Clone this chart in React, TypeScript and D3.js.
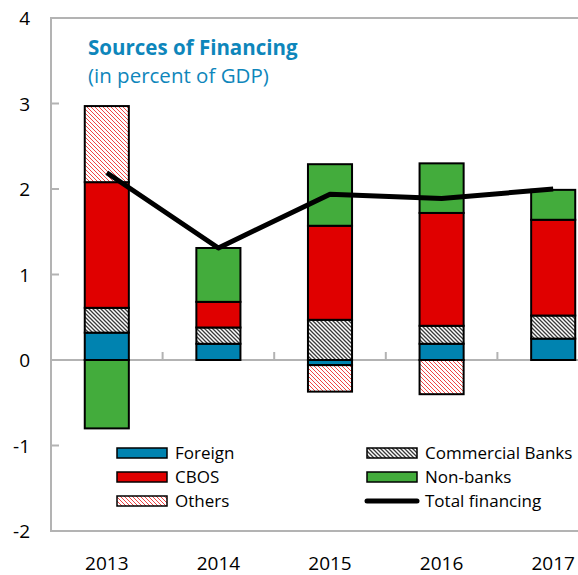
import React from 'react';
import * as d3 from 'd3';

const years = ['2013', '2014', '2015', '2016', '2017'];
const foreign = [0.32, 0.19, -0.06, 0.19, 0.25];
const commercialBanks = [0.29, 0.19, 0.47, 0.21, 0.27];
const cbos = [1.47, 0.30, 1.10, 1.32, 1.12];
const nonBanks = [-0.80, 0.63, 0.72, 0.58, 0.35];
const others = [0.89, 0, -0.31, -0.40, 0];
const totalFinancing = [2.19, 1.31, 1.94, 1.89, 2.0];
const yTicks = [4, 3, 2, 1, 0, -1, -2];

const seriesKeys = ['Foreign', 'Commercial Banks', 'CBOS', 'Non-banks', 'Others'];
const seriesValues: Record<string, number[]> = {
  Foreign: foreign,
  'Commercial Banks': commercialBanks,
  CBOS: cbos,
  'Non-banks': nonBanks,
  Others: others,
};
const fills: Record<string, string> = {
  Foreign: '#0083b0',
  'Commercial Banks': 'url(#hatchGray)',
  CBOS: '#e00000',
  'Non-banks': '#43ac3c',
  Others: 'url(#hatchRed)',
};

const W = 578;
const H = 575;
const left = 51;
const right = 609;
const yTop = 18;
const yBottom = 531;
const FONT = "'Open Sans', 'Noto Sans', sans-serif";
const AXIS = '#b3b3b3';
const TITLE = '#0e86bb';

export default function App() {
  const x = d3.scaleBand<string>().domain(years).range([left, right]).padding(0);
  const y = d3.scaleLinear().domain([-2, 4]).range([yBottom, yTop]);
  const barW = x.bandwidth() * 0.395;
  const cx = (yr: string) => (x(yr) as number) + x.bandwidth() / 2;

  const table = years.map((yr, i) => {
    const row: any = { year: yr };
    seriesKeys.forEach((k) => (row[k] = seriesValues[k][i]));
    return row;
  });
  const stacked = d3.stack<any>().keys(seriesKeys).offset(d3.stackOffsetDiverging)(table);

  const line = d3
    .line<number>()
    .x((_, i) => cx(years[i]))
    .y((d) => y(d));

  const legendItems = [
    { key: 'Foreign', col: 0, row: 0 },
    { key: 'CBOS', col: 0, row: 1 },
    { key: 'Others', col: 0, row: 2 },
    { key: 'Commercial Banks', col: 1, row: 0 },
    { key: 'Non-banks', col: 1, row: 1 },
    { key: 'Total financing', col: 1, row: 2 },
  ];
  const colX = [117, 367];
  const rowY = [453, 477, 501];

  return (
    <svg
      width={W}
      height={H}
      style={{ position: 'absolute', left: 0, top: 0, background: '#fff' }}
      fontFamily={FONT}
    >
      <defs>
        <pattern id="hatchRed" patternUnits="userSpaceOnUse" width="4" height="4">
          <rect width="4" height="4" fill="#fff" />
          <path d="M-1,-1 L5,5 M-1,3 L1,5 M3,-1 L5,1" stroke="#f04545" strokeWidth="1" />
        </pattern>
        <pattern id="hatchGray" patternUnits="userSpaceOnUse" width="4" height="4">
          <rect width="4" height="4" fill="#fff" />
          <path d="M-1,-1 L5,5 M-1,3 L1,5 M3,-1 L5,1" stroke="#3a3a3a" strokeWidth="1.3" />
        </pattern>
      </defs>

      {/* frame */}
      <line x1={left} x2={W} y1={y(4)} y2={y(4)} stroke={AXIS} strokeWidth={2} />
      <line x1={left} x2={W} y1={y(-2)} y2={y(-2)} stroke={AXIS} strokeWidth={2} />
      <line x1={left} x2={left} y1={y(4) - 1} y2={y(-2) + 1} stroke={AXIS} strokeWidth={2} />
      {yTicks.map((t) => (
        <line key={'t' + t} x1={left} x2={left + 8} y1={y(t)} y2={y(t)} stroke={AXIS} strokeWidth={2} />
      ))}
      {yTicks.map((t) => (
        <text key={'l' + t} x={30} y={y(t) + 7} textAnchor="end" fontSize={19} fill="#000">
          {t}
        </text>
      ))}

      {/* zero line and category ticks */}
      <line x1={left} x2={W} y1={y(0)} y2={y(0)} stroke={AXIS} strokeWidth={2} />
      {years.slice(1).map((yr) => (
        <line
          key={'c' + yr}
          x1={x(yr) as number}
          x2={x(yr) as number}
          y1={y(0)}
          y2={y(0) - 8}
          stroke={AXIS}
          strokeWidth={2}
        />
      ))}
      {years.map((yr) => (
        <text key={'x' + yr} x={cx(yr)} y={570} textAnchor="middle" fontSize={19} fill="#000">
          {yr}
        </text>
      ))}

      {/* bars */}
      {stacked.map((s) =>
        s.map((d, i) => {
          const v = seriesValues[s.key][i];
          if (v === 0) return null;
          const y0 = y(d[0]);
          const y1 = y(d[1]);
          return (
            <rect
              key={s.key + i}
              x={cx(years[i]) - barW / 2}
              y={Math.min(y0, y1)}
              width={barW}
              height={Math.abs(y1 - y0)}
              fill={fills[s.key]}
              stroke="#000"
              strokeWidth={2}
            />
          );
        })
      )}

      {/* total line */}
      <path d={line(totalFinancing) || ''} fill="none" stroke="#000" strokeWidth={5} strokeLinejoin="round" />

      {/* title */}
      <text x={88} y={55} fontSize={20.5} fontWeight="bold" fill={TITLE}>
        Sources of Financing
      </text>
      <text x={88} y={83} fontSize={20.5} fill={TITLE}>
        (in percent of GDP)
      </text>

      {/* legend */}
      {legendItems.map((it) => {
        const lx = colX[it.col];
        const ly = rowY[it.row];
        return (
          <g key={it.key}>
            {it.key === 'Total financing' ? (
              <line x1={lx} x2={lx + 50} y1={ly} y2={ly} stroke="#000" strokeWidth={5} strokeLinecap="round" />
            ) : (
              <rect x={lx} y={ly - 5} width={50} height={10} fill={fills[it.key]} stroke="#000" strokeWidth={1.5} />
            )}
            <text x={lx + 58} y={ly + 6} fontSize={17} fill="#000">
              {it.key}
            </text>
          </g>
        );
      })}
    </svg>
  );
}
